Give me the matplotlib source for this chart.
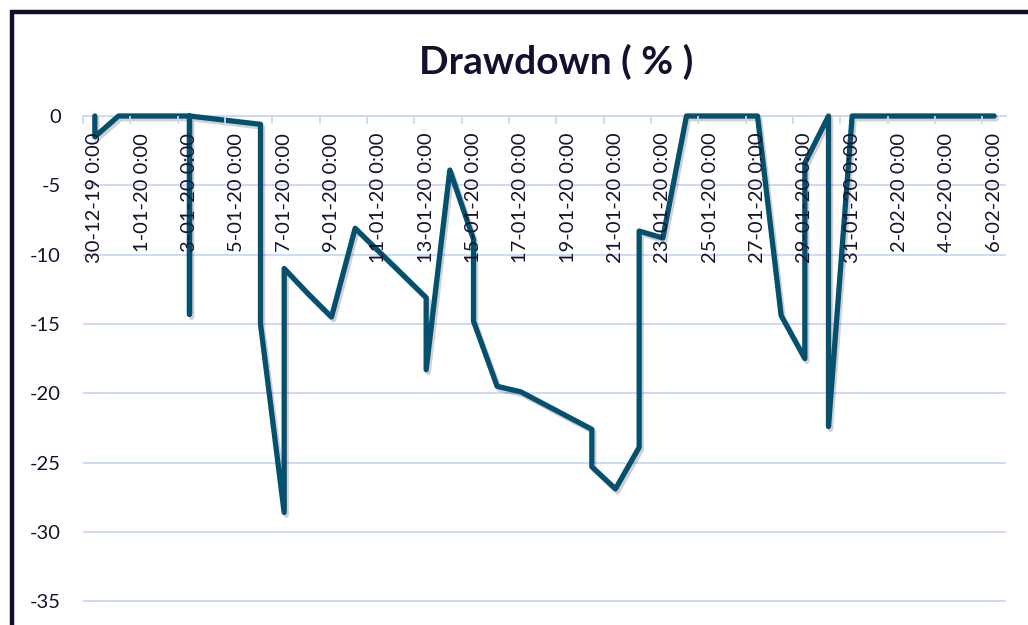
import matplotlib
matplotlib.use("Agg")
import matplotlib.pyplot as plt
import matplotlib.dates as mdates
import matplotlib.patheffects as pe
from matplotlib.patches import Rectangle
import pandas as pd

plt.rcParams["axes.unicode_minus"] = False

# ---- data ----
dates = ["2019-12-30", "2019-12-30", "2019-12-31", "2020-01-02",
         "2020-01-03", "2020-01-03", "2020-01-03",
         "2020-01-06", "2020-01-06", "2020-01-07", "2020-01-07",
         "2020-01-08", "2020-01-09", "2020-01-10",
         "2020-01-13", "2020-01-13", "2020-01-14",
         "2020-01-15", "2020-01-15", "2020-01-16", "2020-01-17",
         "2020-01-20", "2020-01-20", "2020-01-21",
         "2020-01-22", "2020-01-22", "2020-01-23", "2020-01-24",
         "2020-01-27", "2020-01-28", "2020-01-29", "2020-01-29",
         "2020-01-30", "2020-01-30", "2020-01-31",
         "2020-02-03", "2020-02-04", "2020-02-05", "2020-02-06"]
drawdown = [0, -1.5, 0, 0,
            0, -14.3, 0,
            -0.6, -15.0, -28.6, -11.0,
            -12.8, -14.5, -8.1,
            -13.1, -18.3, -3.9,
            -8.9, -14.8, -19.5, -19.9,
            -22.6, -25.3, -26.9,
            -23.9, -8.3, -8.8, 0,
            0, -14.4, -17.5, -3.4,
            0, -22.4, 0,
            0, 0, 0, 0]
tick_dates = pd.date_range("2019-12-30", "2020-02-06", freq="2D")
y_ticks = [0, -5, -10, -15, -20, -25, -30, -35]
title = "Drawdown ( % )"

W, H = 1028, 625
fig = plt.figure(figsize=(W / 100, H / 100), dpi=100)
fig.patch.set_facecolor("white")

x0, x1 = 83, 1006
y_top, y_bot = 116, 622
ax = fig.add_axes([x0 / W, 1 - y_bot / H, (x1 - x0) / W, (y_bot - y_top) / H])

grid_color = "#C9D8F6"
# horizontal gridlines (below the series)
for yv in y_ticks:
    ax.axhline(yv, color=grid_color, lw=1.3, zorder=0.5)

x = mdates.date2num(pd.to_datetime(dates))
line_color = "#03506F"
ax.plot(x, drawdown, color=line_color, lw=3.8, solid_joinstyle="round",
        solid_capstyle="round", clip_on=False, zorder=2,
        path_effects=[pe.SimpleLineShadow(offset=(1.5, -2.0), shadow_color="#000000", alpha=0.18),
                      pe.Normal()])

start = mdates.date2num(pd.Timestamp("2019-12-30"))
ax.set_xlim(start - 0.5, start + 38.5)
ax.set_ylim(-36.5, 0)

ax.set_yticks(y_ticks)
ax.set_axisbelow(False)

tick_num = mdates.date2num(tick_dates)
ax.set_xticks(tick_num)
ax.set_xticklabels([f"{d.day}-{d.month:02d}-{d.strftime('%y')} 0:00" for d in tick_dates])
ax.set_xticks(tick_num - 0.5, minor=True)

for s in ["left", "right", "top"]:
    ax.spines[s].set_visible(False)
ax.spines["bottom"].set_position(("data", 0))
ax.spines["bottom"].set_color(grid_color)
ax.spines["bottom"].set_linewidth(1.3)
ax.spines["bottom"].set_zorder(1)

label_color = "#16132E"
font = "Lato"
ax.tick_params(axis="x", which="major", length=0, pad=12, labelsize=14.5,
               labelcolor=label_color, labelrotation=90)
ax.tick_params(axis="x", which="minor", length=5.5, width=1.3, color=grid_color)
ax.tick_params(axis="y", length=0, pad=16, labelsize=14.5, labelcolor=label_color)
for lab in ax.get_xticklabels():
    lab.set_fontfamily(font)
    lab.set_va("top")
    lab.set_ha("center")
for lab in ax.get_yticklabels():
    lab.set_fontfamily(font)

fig.text(556 / W, 1 - 62 / H, title, ha="center", va="center", fontsize=28,
         fontweight="bold", color="#14112F", fontfamily=font)

fig.add_artist(Rectangle((11.5 / W, -0.2), 1.5, 1 - 11.5 / H + 0.2, fill=False,
                         lw=3.2, edgecolor="#120E2A", transform=fig.transFigure,
                         clip_on=False))

fig.savefig("out.png", dpi=100, facecolor="white")
